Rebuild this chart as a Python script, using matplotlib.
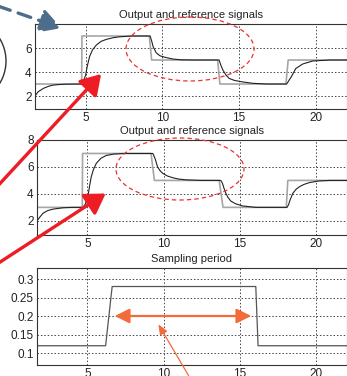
import matplotlib
matplotlib.use("Agg")
import matplotlib.pyplot as plt
from matplotlib.patches import FancyArrowPatch, Ellipse
from matplotlib.transforms import Affine2D

plt.rcParams['font.family'] = ['Liberation Sans', 'DejaVu Sans']

# --- data ---
# top panel: reference (grey) and output (black)
ref1_t = [1.7, 4.74, 4.76, 9.15, 9.3, 13.6, 13.75, 18.05, 18.2, 22]
ref1_y = [3, 3, 7, 7, 5, 5, 3, 3, 5, 5]
out1_t = [1.7, 1.9, 2.25, 2.6, 2.9, 3.3, 3.8, 4.75, 4.85, 5.0, 5.1, 5.26, 5.45,
          5.7, 6.0, 6.35, 6.8, 7.2, 8.0, 9.2, 9.3, 9.4, 9.6, 9.85, 10.25, 10.7,
          11.2, 12.0, 13.7, 13.8, 13.95, 14.15, 14.35, 14.7, 15.2, 15.9, 16.8,
          18.1, 18.25, 18.4, 18.7, 19.15, 19.8, 20.9, 22]
out1_y = [2.0, 2.35, 2.64, 2.82, 2.91, 2.96, 2.99, 3.0, 3.2, 3.75, 4.45, 5.3, 5.85,
          6.25, 6.55, 6.72, 6.86, 6.93, 7.0, 7.0, 6.6, 6.1, 5.6, 5.35, 5.2, 5.08,
          5.02, 5.0, 5.0, 4.6, 4.15, 3.75, 3.47, 3.3, 3.18, 3.06, 3.0,
          3.0, 3.3, 3.6, 4.3, 4.67, 4.92, 5.0, 5.0]

# middle panel
ref2_t = [1.7, 4.67, 4.69, 9.18, 9.4, 13.65, 13.9, 18.05, 18.15, 22]
ref2_y = [3, 3, 7, 7, 5, 5, 3, 3, 5, 5]
out2_t = [1.7, 1.9, 2.1, 2.4, 2.75, 3.4, 4.0, 4.7, 4.85, 5.04, 5.15, 5.26, 5.4,
          5.59, 5.9, 6.24, 6.7, 7.4, 9.3, 9.45, 9.6, 9.75, 9.94, 10.25, 10.6,
          11.0, 11.5, 12.5, 13.75, 13.86, 13.97, 14.08, 14.22, 14.4, 14.7, 15.17,
          16.05, 18.1, 18.2, 18.3, 18.48, 18.7, 18.92, 19.2, 19.57, 20.2, 20.9, 22]
out2_y = [2.0, 2.3, 2.57, 2.76, 2.87, 2.97, 3.0, 3.0, 3.2, 3.8, 4.6, 5.28, 5.8,
          6.27, 6.65, 6.85, 6.95, 7.0, 7.0, 6.6, 6.03, 5.75, 5.53, 5.33, 5.2,
          5.1, 5.04, 5.0, 5.0, 4.8, 4.4, 4.06, 3.75, 3.48, 3.28, 3.11,
          3.0, 3.0, 3.2, 3.55, 4.05, 4.35, 4.54, 4.7, 4.84, 4.96, 5.0, 5.0]

# bottom panel: sampling period
ts_t = [1.7, 6.2, 6.63, 16.05, 16.2, 22]
ts_y = [0.12, 0.12, 0.28, 0.28, 0.12, 0.12]

W, H = 347, 376
fig = plt.figure(figsize=(W / 100, H / 100), dpi=100)


def box(x0, y0, x1, y1):
    return [x0 / W, 1 - y1 / H, (x1 - x0) / W, (y1 - y0) / H]


def style(ax, title, ylim, yticks, ylabels=None):
    ax.set_xlim(1.7, 22)
    ax.set_ylim(*ylim)
    ax.set_xticks([5, 10, 15, 20])
    ax.set_yticks(yticks)
    if ylabels:
        ax.set_yticklabels(ylabels)
    ax.tick_params(length=0, labelsize=8.5, pad=2.5, colors='#222222')
    ax.grid(True, color='#444444', linestyle=(0, (1.5, 2)), linewidth=0.7)
    for s in ax.spines.values():
        s.set_color('#333333')
        s.set_linewidth(0.8)
    ax.set_title(title, fontsize=8, pad=4, color='#222222')


ax1 = fig.add_axes(box(35, 24, 346.5, 109))
ax1.plot(ref1_t, ref1_y, color='#a6a6a6', lw=1.2)
ax1.plot(out1_t, out1_y, color='#222222', lw=0.8)
style(ax1, 'Output and reference signals', (0.92, 8), [2, 4, 6])

ax2 = fig.add_axes(box(37, 140, 346.5, 235))
ax2.plot(ref2_t, ref2_y, color='#a6a6a6', lw=1.2)
ax2.plot(out2_t, out2_y, color='#222222', lw=0.8)
style(ax2, 'Output and reference signals', (0.95, 8), [2, 4, 6, 8])

ax3 = fig.add_axes(box(37, 268, 346.5, 365))
ax3.plot(ts_t, ts_y, color='#555555', lw=0.9)
style(ax3, 'Sampling period', (0.068, 0.33), [0.1, 0.15, 0.2, 0.25, 0.3],
      ['0.1', '0.15', '0.2', '0.25', '0.3'])

# --- overlay annotations in pixel coordinates ---
T = Affine2D().scale(1 / W, -1 / H).translate(0, 1) + fig.transFigure


def arrow(p0, p1, color, lw, style_='-|>', ms=10, ls='-'):
    a = FancyArrowPatch(p0, p1, transform=T, arrowstyle=style_, color=color,
                        lw=lw, mutation_scale=ms, linestyle=ls, zorder=10)
    fig.add_artist(a)


arrow((-5, 5), (64, 29), '#4e6d8c', 2.4, '-|>,head_length=0.8,head_width=0.45', 16,
      (0, (4, 2.5)))
fig.add_artist(Ellipse((-37, 61), 86, 86, transform=T, fill=False,
                       edgecolor='#333333', lw=1.0, zorder=10))
arrow((-6, 190), (103, 72), '#ee1c24', 2.4, '-|>,head_length=0.8,head_width=0.5', 15)
arrow((-6, 266), (108, 192), '#ee1c24', 2.4, '-|>,head_length=0.8,head_width=0.5', 15)
fig.add_artist(Ellipse((190, 49), 128, 64, transform=T, fill=False,
                       edgecolor='#ee3030', lw=0.9, linestyle=(0, (3.5, 2.5)), zorder=9))
fig.add_artist(Ellipse((180, 169), 128, 62, transform=T, fill=False,
                       edgecolor='#ee3030', lw=0.9, linestyle=(0, (3.5, 2.5)), zorder=9))
arrow((112, 316), (254, 316), '#f26b3a', 1.6, '<|-|>,head_length=0.8,head_width=0.4', 11)
arrow((190, 378), (157, 322), '#f26b3a', 0.9, '-|>,head_length=0.6,head_width=0.25', 10)

fig.savefig('out.png', dpi=100)
